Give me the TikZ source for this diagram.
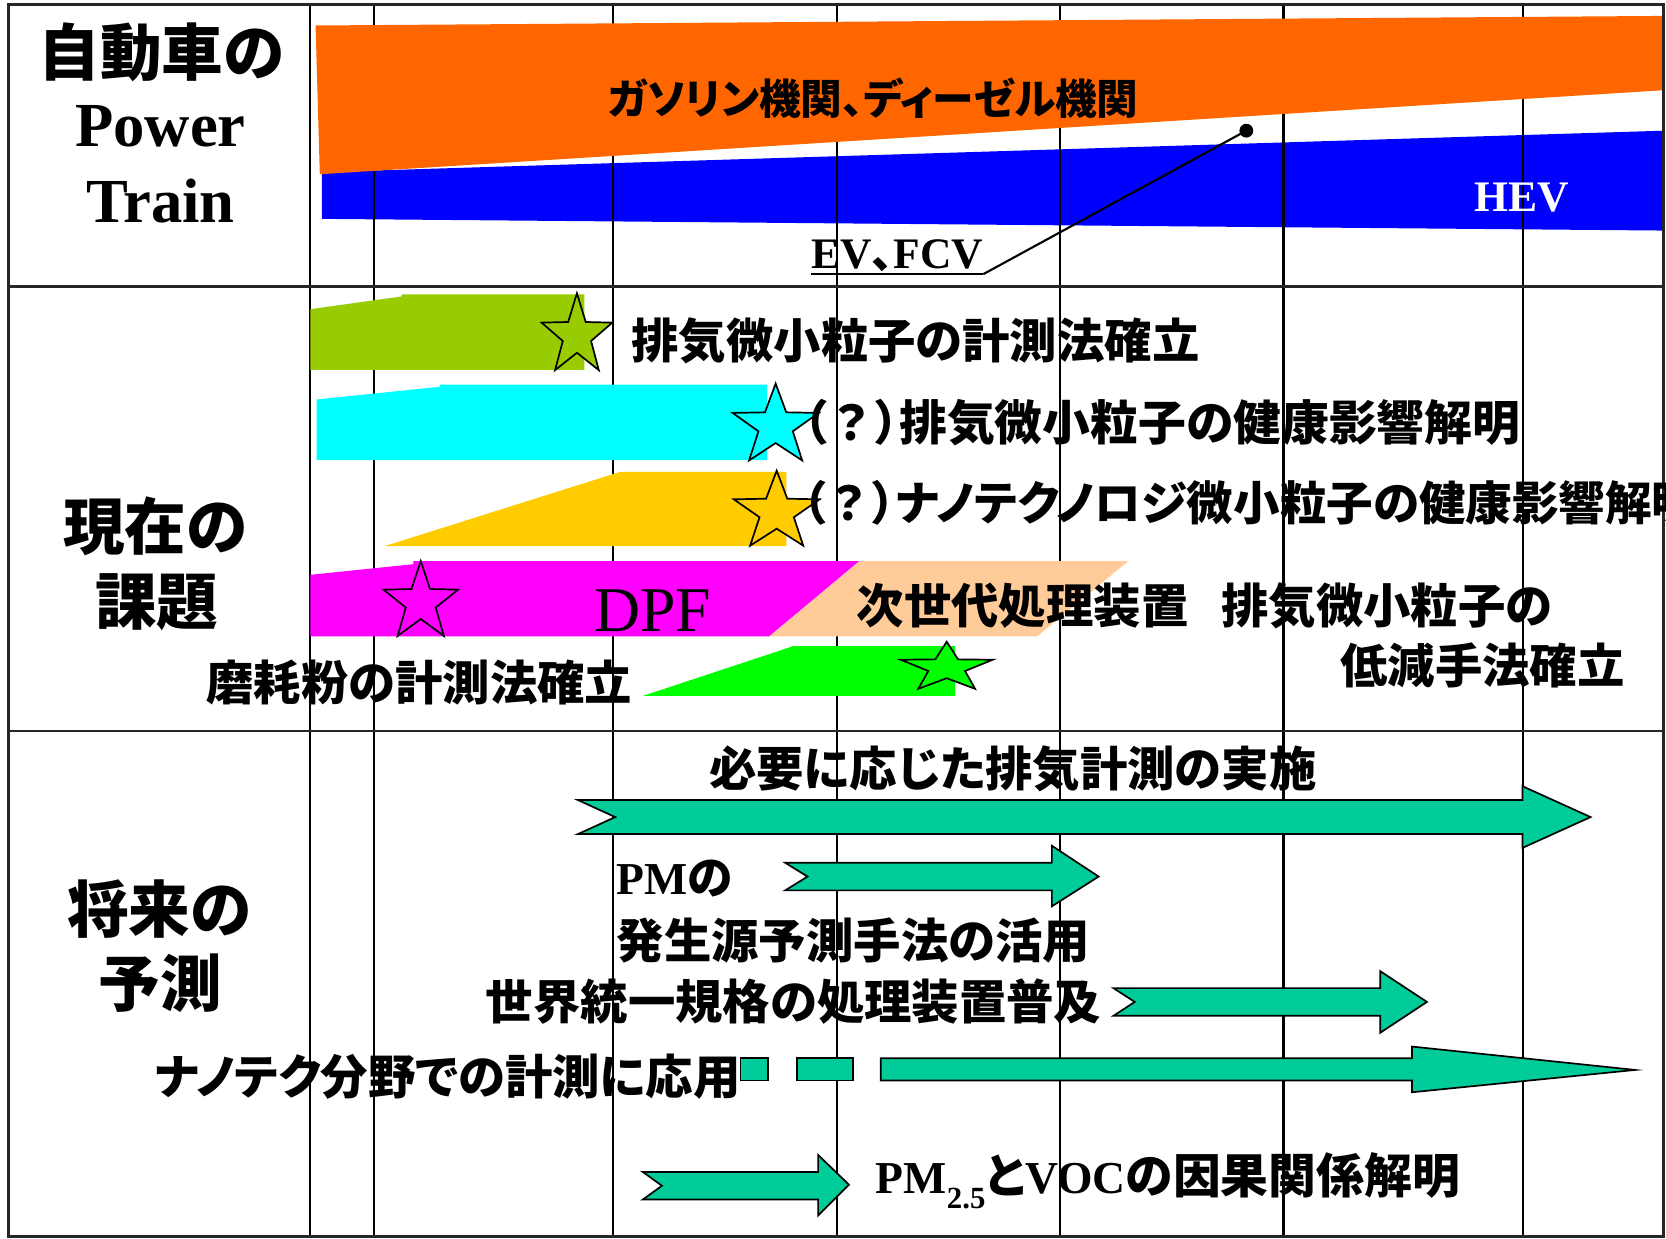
\documentclass[tikz,border=0pt]{standalone}
\usepackage{fontspec}
\setmainfont{Liberation Serif}
\newfontfamily\jp{Noto Sans CJK JP}[RawFeature=+palt]
\newfontfamily\jpfull{Noto Sans CJK JP}
\newcommand\J[1]{{\jp\bfseries #1}}
\newcommand\Q{{\jp\bfseries （}{\jpfull\bfseries ？}{\jp\bfseries ）}}
\definecolor{cOrange}{HTML}{FF6600}
\definecolor{cBlue}{HTML}{0000FF}
\definecolor{cLime}{HTML}{99CC00}
\definecolor{cCyan}{HTML}{00FFFF}
\definecolor{cGold}{HTML}{FFCC00}
\definecolor{cMag}{HTML}{FF00FF}
\definecolor{cPeach}{HTML}{FFCC99}
\definecolor{cGreen}{HTML}{00FF00}
\definecolor{cTeal}{HTML}{00CC99}
\tikzset{
  gridline/.style={line width=1pt, black},
  hline/.style={line width=1.3pt, black!85},
  border/.style={line width=1.4pt, black!85},
  biglab/.style={inner sep=0pt, font=\jp\bfseries\fontsize{29}{30}\selectfont},
  serlab/.style={inner sep=0pt, font=\bfseries\fontsize{29.5}{30}\selectfont},
  jpm/.style={inner sep=0pt, anchor=west, font=\jp\bfseries\fontsize{22.3}{26}\selectfont},
  serm/.style={inner sep=0pt, anchor=base west, font=\bfseries\fontsize{21.5}{24}\selectfont},
  arr/.style={fill=cTeal, draw=black, line width=0.8pt, line join=miter},
  starline/.style={draw=black, line width=0.8pt},
  pics/starshape/.style={code={\path[pic actions] (270:1) -- (306:0.4) -- (342:1) -- (18:0.4) -- (54:1) -- (90:0.4) -- (126:1) -- (162:0.4) -- (198:1) -- (234:0.4) -- cycle;}}
}
\begin{document}
\begin{tikzpicture}[x=0.5pt,y=-0.5pt]
\useasboundingbox (0,0) rectangle (1568,1166);
\clip (0,0) rectangle (1568,1166);
\fill[white] (0,0) rectangle (1568,1166);
% blue band (grid shows through it)
\fill[cBlue] (303,162) -- (1566,123) -- (1566,217) -- (303,206) -- cycle;
% grid
\foreach \gx in {292,352,577,788,998,1208,1433} \draw[gridline] (\gx,4) -- (\gx,1164);
\draw[hline] (8,270) -- (1566,270);
\draw[hline] (8,688) -- (1566,688);
\draw[border] (8,4) rectangle (1566,1164);
% orange band
\fill[cOrange] (297,24) -- (1564,15) -- (1564,85) -- (301,164) -- cycle;
% row 1 labels
\node[biglab] (l1a) at (152,49) {自動車の};
\node[serlab, anchor=base] (l1b) at (151,138) {Power};
\node[serlab, anchor=base] (l1c) at (151,209.6) {Train};
\node[inner sep=0pt, anchor=west, font=\jp\bfseries\fontsize{19.6}{22}\selectfont] (gas) at (572,92.5) {ガソリン機関、ディーゼル機関};
\node[serm, text=white, anchor=base, font=\bfseries\fontsize{20.5}{24}\selectfont] (hev) at (1432,199) {HEV};
\node[serm, font=\bfseries\fontsize{20.5}{24}\selectfont] (ev) at (763,253) {EV\J{、}FCV};
\node[circle, fill=black, inner sep=0pt, minimum size=6.5pt] (dot) at (1173,123) {};
\draw[line width=1pt] ([yshift=-2.5pt]ev.base west) -- ([yshift=-2.5pt]ev.base east) coordinate (ulend);
\draw[line width=1pt] (ulend) -- (dot.center);
% row 2
\node[biglab] (l2a) at (146,495) {現在の};
\node[biglab] (l2b) at (147.5,567) {課題};
\fill[cLime] (292,291) -- (378,279) -- (378,277) -- (550,277) -- (550,348) -- (292,348) -- cycle;
\fill[cCyan] (298,376) -- (414,364) -- (414,362) -- (722,362) -- (722,433) -- (298,433) -- cycle;
\fill[cGold] (362,514) -- (584,444) -- (740,444) -- (740,514) -- cycle;
\fill[cMag] (292,541) -- (389,531) -- (389,528) -- (809,528) -- (724,599) -- (292,599) -- cycle;
\fill[cPeach] (809,528) -- (1062,528) -- (976,599) -- (724,599) -- cycle;
\fill[cGreen] (605,655) -- (747,608) -- (899,608) -- (899,655) -- cycle;
\pic[fill=cLime, starline, xscale=35, yscale=40] at (543,316) {starshape};
\pic[fill=cCyan, starline, xscale=42.5, yscale=40] at (730,401) {starshape};
\pic[fill=cGold, starline, xscale=42.5, yscale=39] at (731,482) {starshape};
\pic[fill=cMag, starline, xscale=37, yscale=39] at (396,567) {starshape};
\pic[fill=cGreen, starline, xscale=45.5, yscale=24.5] at (891,628.5) {starshape};
\node[jpm] (t1) at (594,321) {排気微小粒子の計測法確立};
\node[jpm, font=\jp\bfseries\fontsize{22.5}{26}\selectfont] (t2) at (756,398) {\Q 排気微小粒子の健康影響解明};
\node[jpm, font=\jp\bfseries\fontsize{21.9}{26}\selectfont] (t3) at (755,473) {\Q ナノテクノロジ微小粒子の健康影響解明};
\node[inner sep=0pt, anchor=base west, font=\fontsize{30}{32}\selectfont] (dpf) at (559,594.5) {DPF};
\node[jpm] (t4) at (806,570) {次世代処理装置};
\node[jpm] (t5) at (1149,570) {排気微小粒子の};
\node[jpm] (t6) at (1261,626) {低減手法確立};
\node[jpm] (t7) at (194,642) {磨耗粉の計測法確立};
% row 3
\node[biglab] (l3a) at (150,856) {将来の};
\node[biglab] (l3b) at (151,925) {予測};
\draw[arr] (544,753) -- (1433,753) -- (1433,740) -- (1497,769) -- (1433,798) -- (1433,785) -- (544,785) -- (579,769) -- cycle;
\draw[arr] (739,812) -- (990,812) -- (990,796) -- (1034,825) -- (990,853) -- (990,838) -- (739,838) -- (760,825) -- cycle;
\draw[arr] (1048,930) -- (1299,930) -- (1299,914) -- (1343,943) -- (1299,972) -- (1299,956) -- (1048,956) -- (1068,943) -- cycle;
\draw[arr] (697,996) rectangle (723,1017);
\draw[arr] (750,996) rectangle (803,1017);
\draw[arr] (829,996) -- (1329,996) -- (1329,985) -- (1539,1007) -- (1329,1028) -- (1329,1017) -- (829,1017) -- cycle;
\draw[arr] (605,1103) -- (770,1103) -- (770,1087) -- (799,1115) -- (770,1144) -- (770,1129) -- (605,1129) -- (623,1116) -- cycle;
\node[jpm] (f1) at (667,724) {必要に応じた排気計測の実施};
\node[serm] (f2) at (580,842) {PM\J{の}};
\node[jpm] (f3) at (580,885) {発生源予測手法の活用};
\node[jpm] (f4) at (457,943) {世界統一規格の処理装置普及};
\node[jpm] (f5) at (145,1013) {ナノテク分野での計測に応用};
\node[serm] (f6) at (824,1123) {PM\raisebox{-7pt}{\fontsize{14.5}{14}\selectfont 2.5}\J{\fontsize{22.5}{26}\selectfont と}VOC\J{\fontsize{22.5}{26}\selectfont の因果関係解明}};
\end{tikzpicture}
\end{document}
